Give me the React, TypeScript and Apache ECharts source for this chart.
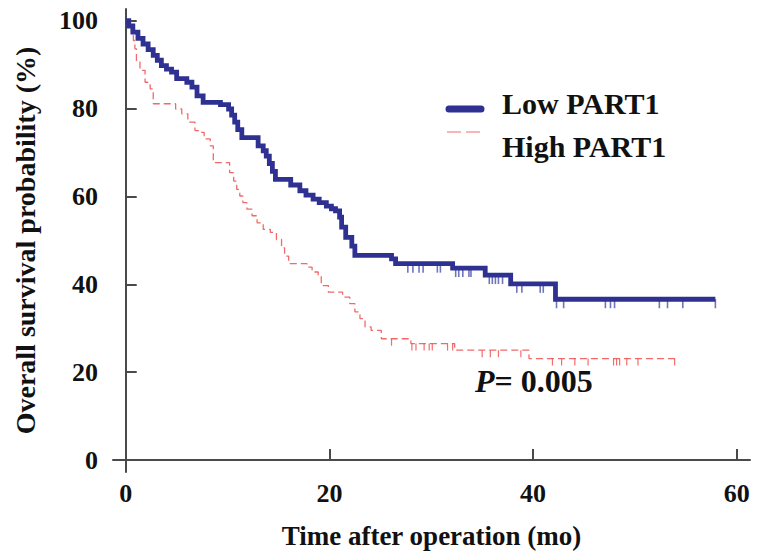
import React, { useEffect, useRef } from "react";
import * as echarts from "echarts";

// Tick values
const xTicks = [0, 20, 40, 60];
const yTicks = [0, 20, 40, 60, 80, 100];

// Kaplan-Meier step points [time (mo), survival (%)] - Low PART1
const lowCurve: [number, number][] = [
  [0, 100], [0.3, 98.8], [0.7, 97.4], [1.2, 96.0], [1.7, 94.7], [2.2, 93.4],
  [2.7, 92.1], [3.1, 91.0], [3.5, 89.8], [4.0, 89.0], [4.5, 88.3], [5.0, 86.8],
  [6.0, 86.0], [6.5, 84.9], [7.0, 82.9], [7.6, 81.4], [9.3, 80.9], [10.1, 79.9],
  [10.4, 78.5], [10.7, 76.9], [11.0, 75.2], [11.4, 73.4], [13.0, 71.5], [13.5, 70.4],
  [13.8, 69.2], [14.1, 67.5], [14.4, 65.7], [14.7, 63.9], [16.2, 62.6], [17.1, 61.3],
  [17.7, 60.3], [18.4, 59.4], [19.0, 58.6], [19.7, 57.8], [20.2, 57.2], [20.6, 56.7],
  [21.0, 55.3], [21.2, 53.0], [21.6, 50.7], [22.2, 48.7], [22.5, 46.6], [26.1, 45.8],
  [26.5, 44.7], [32.1, 43.7], [35.3, 42.1], [37.8, 40.1], [42.2, 36.6], [57.9, 36.6],
];

// High PART1
const highCurve: [number, number][] = [
  [0, 100], [0.4, 98.7], [0.56, 97.4], [0.75, 95.5], [0.9, 93.6], [1.05, 90.6],
  [1.4, 88.7], [1.9, 86.0], [2.4, 84.5], [2.7, 81.1], [4.9, 79.9], [5.5, 78.8],
  [6.1, 76.9], [6.8, 75.0], [7.3, 74.6], [7.7, 73.1], [8.3, 71.5], [8.6, 67.7],
  [10.2, 65.4], [10.6, 63.5], [10.9, 61.6], [11.2, 60.1], [11.5, 58.6], [11.9, 57.1],
  [12.4, 55.6], [12.9, 54.0], [13.5, 52.5], [14.2, 51.8], [14.8, 50.2], [15.3, 48.3],
  [15.6, 46.4], [16.0, 44.7], [17.8, 43.9], [18.3, 42.8], [18.9, 42.0], [19.2, 39.7],
  [19.9, 38.2], [21.3, 37.1], [22.0, 35.6], [22.5, 33.7], [23.0, 32.2], [23.5, 30.3],
  [24.1, 29.5], [25.1, 27.6], [28.0, 26.5], [32.3, 25.0], [39.6, 23.1], [54.0, 23.1],
];

// Censoring times
const lowCensor = [
  27.7, 28.2, 28.8, 29.2, 30.6, 30.9, 32.4, 32.7, 33.1, 33.7, 33.9, 35.7, 36.0, 36.3,
  36.6, 37.0, 38.4, 38.9, 40.7, 41.0, 42.3, 43.0, 47.1, 47.6, 48.0, 52.4, 53.2, 54.7, 57.9,
];
const highCensor = [
  26.1, 28.1, 28.5, 29.3, 29.8, 30.1, 31.6, 32.1, 35.0, 35.8, 36.6, 38.8, 41.9, 42.8,
  44.1, 45.4, 47.9, 48.2, 48.5, 49.2, 50.3, 53.9,
];

const seriesNames = ["Low PART1", "High PART1"];
const pValueText = "= 0.005";

const BLUE = "#2E3192";
const RED = "#F06A6A";
const FONT = '"Liberation Serif", "Times New Roman", serif';

function levelAt(curve: [number, number][], t: number): number {
  let s = curve[0][1];
  for (const [ti, si] of curve) {
    if (ti <= t) s = si;
  }
  return s;
}

export default function App() {
  const ref = useRef<HTMLDivElement>(null);
  useEffect(() => {
    if (!ref.current) return;
    const chart = echarts.init(ref.current, undefined, { renderer: "svg" });
    const axisLabel = {
      fontFamily: FONT,
      fontWeight: "bold" as const,
      fontSize: 26,
      color: "#111",
    };
    chart.setOption({
      animation: false,
      backgroundColor: "#fff",
      grid: { left: 113, right: 12, top: 9, bottom: 85, containLabel: false },
      xAxis: {
        type: "value",
        min: -1.25,
        max: 61.3,
        splitLine: { show: false },
        axisLine: { show: true, lineStyle: { color: "#4a4a4a", width: 2 } },
        axisTick: {
          show: true,
          inside: true,
          length: 11,
          customValues: xTicks,
          lineStyle: { color: "#4a4a4a", width: 2 },
        },
        axisLabel: { ...axisLabel, customValues: xTicks, margin: 8 },
        name: "Time after operation (mo)",
        nameLocation: "middle",
        nameGap: 50,
        nameTextStyle: { fontFamily: FONT, fontWeight: "bold", fontSize: 27, color: "#111" },
      },
      yAxis: {
        type: "value",
        min: -2.73,
        max: 102.67,
        splitLine: { show: false },
        axisLine: { show: true, lineStyle: { color: "#4a4a4a", width: 2 } },
        axisTick: {
          show: true,
          inside: true,
          length: 11,
          customValues: yTicks,
          lineStyle: { color: "#4a4a4a", width: 2 },
        },
        axisLabel: { ...axisLabel, customValues: yTicks, margin: 15 },
        name: "Overall survival probability (%)",
        nameLocation: "middle",
        nameGap: 74,
        nameTextStyle: { fontFamily: FONT, fontWeight: "bold", fontSize: 28, color: "#111" },
      },
      series: [
        {
          name: seriesNames[0],
          type: "line",
          step: "end",
          showSymbol: false,
          data: lowCurve,
          lineStyle: { color: BLUE, width: 4.8, join: "miter" },
          z: 3,
        },
        {
          name: seriesNames[1],
          type: "line",
          step: "end",
          showSymbol: false,
          data: highCurve,
          lineStyle: { color: RED, width: 1.3, type: [7, 4] },
          z: 2,
        },
        {
          type: "scatter",
          data: lowCensor.map((t) => [t, levelAt(lowCurve, t)]),
          symbol: "rect",
          symbolSize: [1.6, 9],
          symbolOffset: [0, 4.5],
          itemStyle: { color: "#4B52A8" },
          z: 2,
        },
        {
          type: "scatter",
          data: highCensor.map((t) => [t, levelAt(highCurve, t)]),
          symbol: "rect",
          symbolSize: [1.2, 7],
          symbolOffset: [0, 3.5],
          itemStyle: { color: "#F04848" },
          z: 2,
        },
      ],
      graphic: [
        {
          type: "line",
          shape: { x1: 449, y1: 109, x2: 481, y2: 109 },
          style: { stroke: BLUE, lineWidth: 7, lineCap: "round" },
        },
        {
          type: "line",
          shape: { x1: 447, y1: 132, x2: 481, y2: 132 },
          style: { stroke: "#F4A0A0", lineWidth: 1.6, lineDash: [14, 5] },
        },
        {
          type: "text",
          x: 502,
          y: 103,
          style: {
            text: seriesNames[0],
            fontFamily: FONT,
            fontWeight: "bold",
            fontSize: 30,
            fill: "#111",
            verticalAlign: "middle",
          },
        },
        {
          type: "text",
          x: 502,
          y: 146,
          style: {
            text: seriesNames[1],
            fontFamily: FONT,
            fontWeight: "bold",
            fontSize: 30,
            fill: "#111",
            verticalAlign: "middle",
          },
        },
        {
          type: "text",
          x: 475,
          y: 381,
          style: {
            text: "{i|P}{b|" + pValueText + "}",
            verticalAlign: "middle",
            rich: {
              i: { fontFamily: FONT, fontWeight: "bold", fontStyle: "italic", fontSize: 32, fill: "#111" },
              b: { fontFamily: FONT, fontWeight: "bold", fontSize: 32, fill: "#111" },
            },
          },
        },
      ],
    });
    return () => chart.dispose();
  }, []);
  return (
    <div
      ref={ref}
      style={{ position: "absolute", left: 0, top: 0, width: 762, height: 557 }}
    />
  );
}
